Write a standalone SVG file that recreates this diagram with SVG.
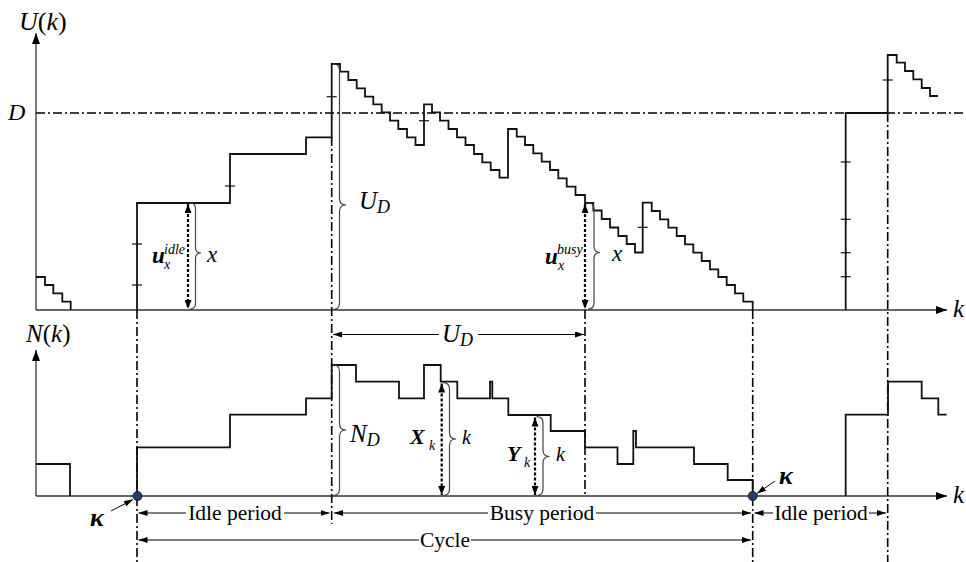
<svg xmlns="http://www.w3.org/2000/svg" width="966" height="562" viewBox="0 0 966 562" font-family="'Liberation Serif', 'Times New Roman', serif">
<defs>
<marker id="ax" markerUnits="userSpaceOnUse" markerWidth="11" markerHeight="8" refX="11" refY="4" orient="auto-start-reverse"><path d="M0,0 L11,4 L0,8 z" fill="#000"/></marker>
<marker id="sm" markerUnits="userSpaceOnUse" markerWidth="9" markerHeight="6" refX="9" refY="3" orient="auto-start-reverse"><path d="M0,0 L9,3 L0,6 z" fill="#000"/></marker>
<marker id="dt" markerUnits="userSpaceOnUse" markerWidth="9" markerHeight="7" refX="9" refY="3.5" orient="auto-start-reverse"><path d="M0,0 L9,3.5 L0,7 z" fill="#000"/></marker>
</defs>
<style>
.axis{stroke:#333;stroke-width:1.3;fill:none}
.stair{stroke:#111;stroke-width:1.8;fill:none;stroke-linejoin:miter}
.dd{stroke:#000;stroke-width:1.6;fill:none;stroke-dasharray:9 3 2 3}
.tick{stroke:#111;stroke-width:1.2}
.brace{stroke:#444;stroke-width:1.2;fill:none}
.dot{stroke:#000;stroke-width:2.2;stroke-dasharray:3 2;fill:none}
.rng{stroke:#000;stroke-width:1;fill:none}
text{font-family:'Liberation Serif','Times New Roman',serif;fill:#000}
.it{font-style:italic}
.lab{font-size:21.5px}
.bi{font-style:italic;font-weight:bold}
</style>

<g id="axes">
<line class="axis" x1="36" y1="310" x2="36" y2="33" marker-end="url(#ax)"/>
<line class="axis" x1="36" y1="310" x2="947" y2="310" marker-end="url(#ax)"/>
<line class="axis" x1="36" y1="496" x2="36" y2="350" marker-end="url(#ax)"/>
<line class="axis" x1="36" y1="496" x2="947" y2="496" marker-end="url(#ax)"/>
<text class="it" x="19" y="30" font-size="26">U<tspan font-style="normal">(</tspan>k<tspan font-style="normal">)</tspan></text>
<text class="it" x="8" y="120" font-size="24">D</text>
<text class="it" x="26" y="342" font-size="25">N<tspan font-style="normal">(</tspan>k<tspan font-style="normal">)</tspan></text>
<text class="it" x="953" y="317" font-size="25">k</text>
<text class="it" x="953" y="503" font-size="25">k</text>
</g>

<g id="guides">
<line class="dd" x1="36" y1="113" x2="964" y2="113"/>
<line class="dd" x1="137" y1="310" x2="137" y2="562"/>
<line class="dd" x1="331.7" y1="137" x2="331.7" y2="524"/>
<line class="dd" x1="585" y1="310" x2="585" y2="496"/>
<line class="dd" x1="752.7" y1="310" x2="752.7" y2="562"/>
<line class="dd" x1="887.7" y1="113" x2="887.7" y2="562"/>
</g>

<g id="workload-curve">
<path class="stair" d="M36,277 H45 V285 H53.3 V293.3 H62.3 V301.7 H70.7 V310"/>
<path class="stair" d="M137,310 V203 H230 V154 H306 V137.3 H331.7 V64 H340 V71.7 H348.3 V80 H356.7 V88.3 H365 V96.7 H373.3 V104.3 H381.7 V112.3 H390 V120.7 H398.3 V129 H407 V137.3 H415.5 V145 H424 V104.3 H432 V112.3 H440 V120.7 H448.5 V129 H457 V137.3 H465.5 V145 H474 V154 H482.3 V162.3 H490.7 V170 H499.5 V177.7 H508 V129 H516.7 V136.7 H525 V145 H533.3 V153.3 H541.7 V161.7 H550 V170 H558.3 V178.3 H566.7 V186.7 H575.5 V195 H585 V203 H593.3 V210.5 H601.7 V219 H610 V227.5 H618.3 V236 H626.7 V244 H635 V252.5 H642.7 V202.7 H651.7 V211 H660 V219.3 H668.3 V227.7 H676.7 V236 H685 V244.3 H693.3 V252.7 H701.7 V261 H710 V269.3 H718.3 V277 H726.7 V285 H735 V293.3 H743.3 V301.7 H752.7 V310"/>
<path class="stair" d="M845.7,310 V113 H887.7 V55 H896.7 V62.7 H905 V71 H913.3 V79.3 H921.7 V88 H930 V96 H938"/>
<g class="tick">
<line x1="132" y1="244" x2="142" y2="244"/>
<line x1="132" y1="285" x2="142" y2="285"/>
<line x1="225" y1="186" x2="235" y2="186"/>
<line x1="326.7" y1="96.7" x2="336.7" y2="96.7"/>
<line x1="419" y1="120.7" x2="429" y2="120.7"/>
<line x1="637.7" y1="227.3" x2="647.7" y2="227.3"/>
<line x1="840.7" y1="162" x2="850.7" y2="162"/>
<line x1="840.7" y1="219.3" x2="850.7" y2="219.3"/>
<line x1="840.7" y1="252.7" x2="850.7" y2="252.7"/>
<line x1="840.7" y1="276.7" x2="850.7" y2="276.7"/>
<line x1="882.7" y1="80" x2="892.7" y2="80"/>
</g>
</g>

<g id="count-curve">
<path class="stair" d="M36,464 H70 V496"/>
<path class="stair" d="M137,496 V447.3 H230 V414.7 H306 V398.3 H331.7 V365 H356 V381.7 H399 V398.3 H424 V365 H440.7 V381.7 H457.3 V398.3 H490 V381.7 H492.3 V398.3 H508.3 V415 H550.7 V431 H585 V447.3 H617.5 V464 H633.3 V431 H636 V447.3 H694 V464 H727.7 V480 H752.7 V496"/>
<path class="stair" d="M845.7,496 V414.7 H888 V381.7 H921.7 V398.3 H938.3 V414.7 H946.7"/>
</g>

<g id="u-idle">
<line class="dot" x1="188" y1="204" x2="188" y2="309" marker-start="url(#dt)" marker-end="url(#dt)"/>
<path class="brace" d="M190,203 q5.5,0 5.5,5.5 V247.5 q0,5.5 5.5,5.5 q-5.5,0 -5.5,5.5 V303.5 q0,5.5 -5.5,5.5"/>
<text class="bi" x="152" y="263" font-size="23">u</text>
<text class="it" x="164" y="254" font-size="14">idle</text>
<text class="it" x="164" y="269" font-size="14">x</text>
<text class="it" x="207" y="262" font-size="23">x</text>
</g>

<g id="u-busy">
<line class="dot" x1="585" y1="204" x2="585" y2="309" marker-start="url(#dt)" marker-end="url(#dt)"/>
<path class="brace" d="M588,203 q6,0 6,6 V246.5 q0,6 6,6 q-6,0 -6,6 V303 q0,6 -6,6"/>
<text class="bi" x="545" y="264" font-size="23">u</text>
<text class="it" x="557" y="254" font-size="14">busy</text>
<text class="it" x="558" y="270" font-size="14">x</text>
<text class="it" x="612" y="261" font-size="23">x</text>
</g>

<g id="ud-brace">
<path class="brace" d="M333,64 q6.5,0 6.5,6.5 V198.5 q0,6.5 6.5,6.5 q-6.5,0 -6.5,6.5 V303 q0,6.5 -6.5,6.5"/>
<text class="it" x="359" y="209" font-size="25">U<tspan font-size="18" dy="4">D</tspan></text>
</g>

<g id="nd-brace">
<path class="brace" d="M333,365 q6.5,0 6.5,6.5 V423.5 q0,6.5 6.5,6.5 q-6.5,0 -6.5,6.5 V489 q0,6.5 -6.5,6.5"/>
<text class="it" x="350" y="442" font-size="25">N<tspan font-size="18" dy="4">D</tspan></text>
</g>

<g id="xk">
<line class="dot" x1="441.7" y1="383.5" x2="441.7" y2="495" marker-start="url(#dt)" marker-end="url(#dt)"/>
<path class="brace" d="M443,382.7 q6.5,0 6.5,6.5 V432.5 q0,6.5 6.5,6.5 q-6.5,0 -6.5,6.5 V489 q0,6.5 -6.5,6.5"/>
<text class="bi" x="410" y="444" font-size="22">X</text>
<text class="it" x="429" y="450" font-size="14">k</text>
<text class="it" x="462" y="444" font-size="20">k</text>
</g>

<g id="yk">
<line class="dot" x1="535" y1="417.5" x2="535" y2="495" marker-start="url(#dt)" marker-end="url(#dt)"/>
<path class="brace" d="M536.5,416.7 q6.5,0 6.5,6.5 V450 q0,6.5 6.5,6.5 q-6.5,0 -6.5,6.5 V489 q0,6.5 -6.5,6.5"/>
<text class="bi" x="507" y="461" font-size="22">Y</text>
<text class="it" x="524" y="467" font-size="14">k</text>
<text class="it" x="556" y="461" font-size="20">k</text>
</g>

<g id="ud-range">
<line class="rng" x1="333" y1="334.5" x2="439" y2="334.5" marker-start="url(#sm)"/>
<line class="rng" x1="478" y1="334.5" x2="584" y2="334.5" marker-end="url(#sm)"/>
<text class="it" x="442" y="342" font-size="25">U<tspan font-size="18" dy="4">D</tspan></text>
</g>

<g id="periods">
<line class="rng" x1="138.5" y1="513" x2="186" y2="513" marker-start="url(#sm)"/>
<line class="rng" x1="284" y1="513" x2="329.5" y2="513" marker-end="url(#sm)"/>
<text class="lab" x="235" y="520" text-anchor="middle">Idle period</text>
<line class="rng" x1="334" y1="513" x2="488" y2="513" marker-start="url(#sm)"/>
<line class="rng" x1="596" y1="513" x2="751" y2="513" marker-end="url(#sm)"/>
<text class="lab" x="542" y="520" text-anchor="middle">Busy period</text>
<line class="rng" x1="754.5" y1="513" x2="773" y2="513" marker-start="url(#sm)"/>
<line class="rng" x1="869" y1="513" x2="886" y2="513" marker-end="url(#sm)"/>
<text class="lab" x="821" y="520" text-anchor="middle">Idle period</text>
<line class="rng" x1="138.5" y1="540" x2="419" y2="540" marker-start="url(#sm)"/>
<line class="rng" x1="471" y1="540" x2="751" y2="540" marker-end="url(#sm)"/>
<text class="lab" x="445" y="547" text-anchor="middle">Cycle</text>
</g>

<g id="kappa-left">
<circle cx="137.5" cy="496" r="4.5" fill="#1d3f70" stroke="#111" stroke-width="0.8"/>
<line class="rng" x1="111" y1="511" x2="133" y2="499.5" marker-end="url(#sm)"/>
<text class="bi" x="90" y="526" font-size="26">κ</text>
</g>

<g id="kappa-right">
<circle cx="752.7" cy="496" r="4.5" fill="#1d3f70" stroke="#111" stroke-width="0.8"/>
<line class="rng" x1="775" y1="481" x2="757" y2="493.5" marker-end="url(#sm)"/>
<text class="bi" x="779" y="484" font-size="26">κ</text>
</g>
</svg>
